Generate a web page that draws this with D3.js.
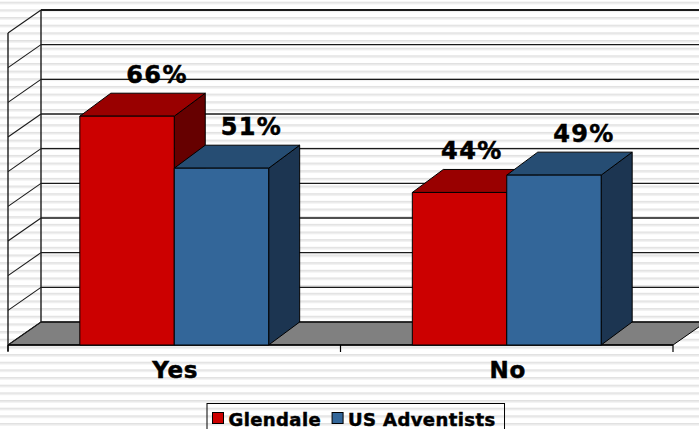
<!DOCTYPE html>
<html>
<head>
<meta charset="utf-8">
<script src="https://cdn.jsdelivr.net/npm/d3@7"></script>
<style>
  html, body { margin: 0; padding: 0; background: #fff; }
  svg { display: block; }
  text { font-family: "DejaVu Sans", Verdana, sans-serif; font-weight: bold; fill: #000; }
  .heavy { stroke: #000; stroke-width: 0.5px; }
</style>
</head>
<body>
<svg id="chart" width="699" height="429"></svg>
<script>
// Survey answers by group (percent)
const categories = ["Yes", "No"];
const seriesNames = ["Glendale", "US Adventists"];
const glendale = [66, 44];
const usAdventists = [51, 49];
const valueTicks = [0, 10, 20, 30, 40, 50, 60, 70, 80, 90];

const seriesValues = [glendale, usAdventists];
const palette = [
  { front: "#cc0000", top: "#990000", side: "#660000" },
  { front: "#336699", top: "#264d73", side: "#1c3551" }
];

const W = 699, H = 429;
const svg = d3.select("#chart");

// striped page background
const defs = svg.append("defs");
const pat = defs.append("pattern")
  .attr("id", "stripes").attr("patternUnits", "userSpaceOnUse")
  .attr("x", 0).attr("y", 1.7).attr("width", 10).attr("height", 7.66);
pat.append("rect").attr("width", 10).attr("height", 7.66).attr("fill", "#ffffff");
pat.append("rect").attr("y", 0).attr("width", 10).attr("height", 1.6).attr("fill", "#e1e1e1");
pat.append("rect").attr("y", 1.6).attr("width", 10).attr("height", 0.9).attr("fill", "#ebebeb");
svg.append("rect").attr("width", W).attr("height", H).attr("fill", "url(#stripes)");

// 3D frame: front plane and depth offset of the walls
const x0Left = 8, x0Right = 673, floorY = 345;
const depthX = 33, depthY = 23;   // wall depth
const barDX = 31, barDY = 23;     // bar depth

const y = d3.scaleLinear().domain([0, 90]).range([floorY, floorY - 312]);
const x0 = d3.scaleBand().domain(categories).range([x0Left, x0Right]);
const groupW = x0.bandwidth() * 0.568;
const x1 = d3.scaleBand().domain(seriesNames).range([0, groupW]);

const line = (pts) => "M" + pts.map(p => p.join(",")).join("L");
const wallLine = "#1a1a1a";

// floor
svg.append("path")
  .attr("d", line([[x0Left, floorY], [x0Right, floorY], [x0Right + depthX, floorY - depthY], [x0Left + depthX, floorY - depthY]]) + "Z")
  .attr("fill", "#808080").attr("stroke", "#000").attr("stroke-width", 1);

// gridlines on back wall and side wall
const grid = svg.append("g");
valueTicks.forEach(v => {
  const yb = y(v) - depthY;
  grid.append("line")
    .attr("x1", x0Left + depthX).attr("x2", x0Right + depthX)
    .attr("y1", yb).attr("y2", yb)
    .attr("stroke", wallLine).attr("stroke-width", v === 90 ? 1.8 : 1.3);
  grid.append("line")
    .attr("x1", x0Left).attr("y1", y(v))
    .attr("x2", x0Left + depthX).attr("y2", yb)
    .attr("stroke", wallLine).attr("stroke-width", 1.1);
});
// wall verticals
grid.append("line").attr("x1", x0Left + depthX).attr("x2", x0Left + depthX)
  .attr("y1", y(90) - depthY).attr("y2", y(0) - depthY)
  .attr("stroke", wallLine).attr("stroke-width", 1.4);
grid.append("line").attr("x1", x0Left).attr("x2", x0Left)
  .attr("y1", y(90)).attr("y2", floorY + 6)
  .attr("stroke", wallLine).attr("stroke-width", 1.4);

// category axis on front edge of floor
const axis = svg.append("g");
axis.append("line").attr("x1", x0Left).attr("x2", x0Right)
  .attr("y1", floorY).attr("y2", floorY).attr("stroke", "#000").attr("stroke-width", 1.6);
const boundaries = categories.map(c => x0(c)).concat([x0Right]);
axis.selectAll(".tk").data(boundaries).enter().append("line")
  .attr("x1", d => d).attr("x2", d => d)
  .attr("y1", floorY).attr("y2", floorY + 7)
  .attr("stroke", "#000").attr("stroke-width", 1.2);
axis.selectAll(".cat").data(categories).enter().append("text")
  .attr("class", "heavy")
  .attr("x", d => x0(d) + x0.bandwidth() / 2 + 1)
  .attr("y", floorY + 33)
  .attr("text-anchor", "middle")
  .attr("font-size", 23)
  .attr("letter-spacing", 0.8)
  .text(d => d);

// bars
const bars = svg.append("g");
const barInfo = [];
categories.forEach((cat, ci) => {
  const gx = x0(cat) + (x0.bandwidth() - groupW) / 2;
  seriesNames.forEach((s, si) => {
    const v = seriesValues[si][ci];
    const xl = gx + x1(s), xr = xl + x1.bandwidth();
    const yt = y(v), yb = floorY;
    const c = palette[si];
    const g = bars.append("g").attr("stroke", "#000").attr("stroke-width", 1).attr("stroke-linejoin", "round");
    g.append("path").attr("fill", c.side)
      .attr("d", line([[xr, yt], [xr + barDX, yt - barDY], [xr + barDX, yb - barDY], [xr, yb]]) + "Z");
    g.append("path").attr("fill", c.top)
      .attr("d", line([[xl, yt], [xl + barDX, yt - barDY], [xr + barDX, yt - barDY], [xr, yt]]) + "Z");
    g.append("rect").attr("fill", c.front)
      .attr("x", xl).attr("y", yt).attr("width", xr - xl).attr("height", yb - yt);
    barInfo.push({ ci, si, v, xl, xr, yt });
  });
});

// value labels above each bar top
const labels = svg.append("g");
barInfo.forEach(b => {
  const t = labels.append("text")
    .attr("class", "heavy")
    .attr("font-size", 24).attr("letter-spacing", 1.4)
    .attr("text-anchor", "middle")
    .attr("y", b.yt - barDY - 10)
    .text(b.v + "%");
  let cx = (b.xl + b.xr) / 2 + 30;
  const w = t.node().getComputedTextLength();
  const next = barInfo.find(o => o.ci === b.ci && o.si === b.si + 1);
  if (next && next.v > b.v && cx + w / 2 > next.xl - 4) cx = next.xl - 4 - w / 2;
  t.attr("x", cx);
});

// legend
const leg = svg.append("g");
const legY = 403.5;
const box = leg.append("rect").attr("y", legY).attr("height", 40)
  .attr("fill", "none").attr("stroke", "#000").attr("stroke-width", 1);
let lx = 212.5;
seriesNames.forEach((s, si) => {
  leg.append("rect").attr("x", lx).attr("y", legY + 9).attr("width", 11).attr("height", 11)
    .attr("fill", palette[si].front).attr("stroke", "#000").attr("stroke-width", 1);
  const t = leg.append("text").attr("class", "heavy").attr("x", lx + 16).attr("y", legY + 22)
    .attr("font-size", 18).attr("letter-spacing", 0.4).text(s);
  lx += 16 + t.node().getComputedTextLength() + 11;
});
box.attr("x", 207).attr("width", lx - 207 - 2);
</script>
</body>
</html>
